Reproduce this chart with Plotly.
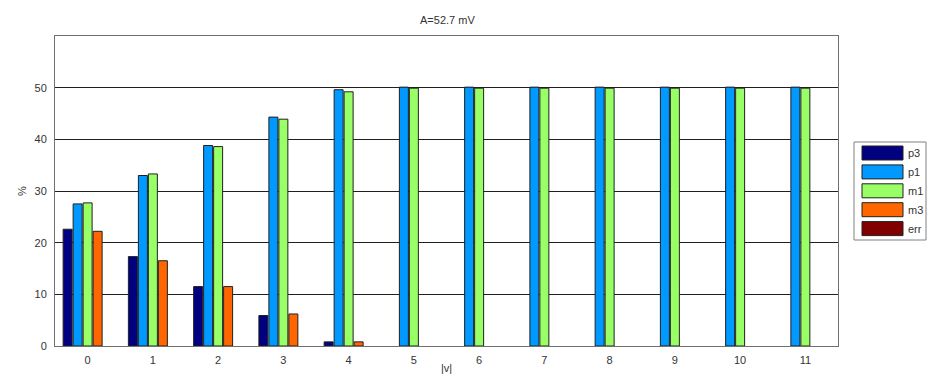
import plotly.graph_objects as go

# Category values (|v|) and percentage of each series per category
categories = list(range(12))
p3 = [22.6, 17.3, 11.5, 5.9, 0.8, 0, 0, 0, 0, 0, 0, 0]
p1 = [27.5, 33.0, 38.8, 44.3, 49.6, 50.1, 50.1, 50.1, 50.1, 50.1, 50.1, 50.1]
m1 = [27.7, 33.3, 38.6, 43.9, 49.2, 49.9, 49.9, 49.9, 49.9, 49.9, 49.9, 49.9]
m3 = [22.2, 16.5, 11.5, 6.2, 0.8, 0, 0, 0, 0, 0, 0, 0]
err = [0] * 12

series_names = ["p3", "p1", "m1", "m3", "err"]
series_values = [p3, p1, m1, m3, err]
series_colors = ["#000080", "#0099FF", "#99FF66", "#FF6600", "#800000"]

W, H = 927, 377
L, R, T, B = 55, 89, 36, 31
plot_w = W - L - R
plot_h = H - T - B


def px_to_paper(px, py):
    return (px - L) / plot_w, (H - B - py) / plot_h


fig = go.Figure()
for name, vals, col in zip(series_names, series_values, series_colors):
    # zero-height bars get no outline so nothing is drawn for them
    outline_w = [1 if v > 0 else 0 for v in vals]
    fig.add_trace(go.Bar(
        x=categories, y=vals, name=name,
        marker=dict(color=col, line=dict(color="#202020", width=outline_w)),
        showlegend=False,
    ))

axis_font = dict(family="Liberation Sans, Arial, sans-serif", size=11, color="#333333")

fig.update_layout(
    width=W, height=H,
    margin=dict(l=L, r=R, t=T, b=B, pad=0),
    paper_bgcolor="white", plot_bgcolor="white",
    barmode="group", bargap=0.234, bargroupgap=0.1,
    font=axis_font,
    xaxis=dict(
        range=[-0.5, 11.5], tickmode="array", tickvals=categories,
        ticktext=[str(c) for c in categories],
        showgrid=False, zeroline=False, showline=True, mirror=True,
        linecolor="#707070", linewidth=1, ticks="", ticklabelstandoff=4,
        tickfont=axis_font,
    ),
    yaxis=dict(
        range=[0, 60], tickmode="array", tickvals=[0, 10, 20, 30, 40, 50],
        showgrid=True, gridcolor="#202020", gridwidth=1, zeroline=False,
        showline=True, mirror=True, linecolor="#707070", linewidth=1,
        ticks="", ticklabelstandoff=5, tickfont=axis_font,
    ),
)

annotations = []
shapes = []

# Title
tx, ty = px_to_paper(447, 20)
annotations.append(dict(text="A=52.7 mV", x=tx, y=ty, xref="paper", yref="paper",
                        showarrow=False, xanchor="center", yanchor="middle",
                        font=dict(family="Liberation Sans, Arial, sans-serif", size=11, color="#333333")))
# Axis labels
lx, ly = px_to_paper(22, 191)
annotations.append(dict(text="%", x=lx, y=ly, xref="paper", yref="paper", textangle=-90,
                        showarrow=False, xanchor="center", yanchor="middle", font=axis_font))
vx, vy = px_to_paper(446, 376)
annotations.append(dict(text="|v|", x=vx, y=vy, xref="paper", yref="paper",
                        showarrow=False, xanchor="center", yanchor="bottom", font=axis_font))

# Legend box with wide colour swatches
bx0, by0 = px_to_paper(854, 142)
bx1, by1 = px_to_paper(926, 240)
shapes.append(dict(type="rect", xref="paper", yref="paper", x0=bx0, y0=by1, x1=bx1, y1=by0,
                   line=dict(color="#808080", width=1), fillcolor="white"))
for i, (name, col) in enumerate(zip(series_names, series_colors)):
    top = 146 + i * 18.9
    sx0, sy0 = px_to_paper(862, top)
    sx1, sy1 = px_to_paper(903, top + 14)
    shapes.append(dict(type="rect", xref="paper", yref="paper", x0=sx0, y0=sy1, x1=sx1, y1=sy0,
                       fillcolor=col, line=dict(color="#202020", width=1)))
    ax, ay = px_to_paper(906, top + 7)
    annotations.append(dict(text=name, x=ax, y=ay, xref="paper", yref="paper",
                            showarrow=False, xanchor="left", yanchor="middle", font=axis_font))

fig.update_layout(annotations=annotations, shapes=shapes)
fig.write_html("out.html")
